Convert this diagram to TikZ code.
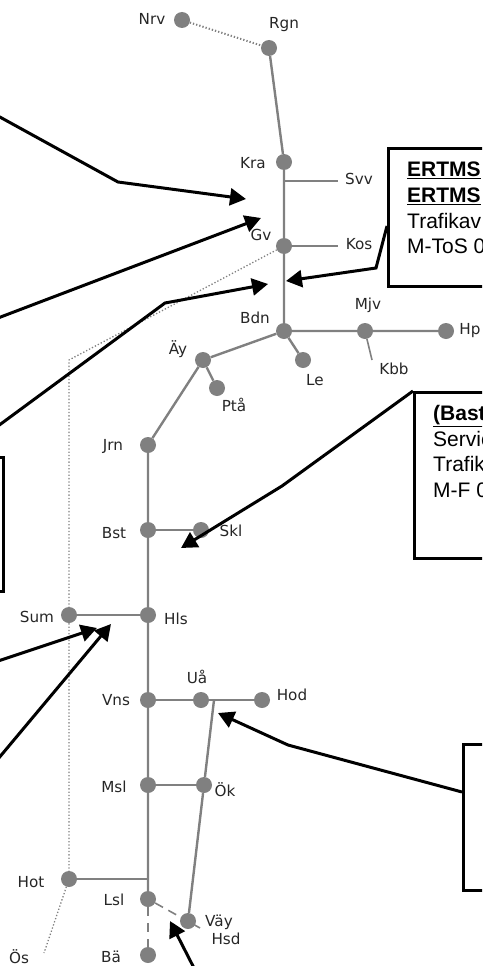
\documentclass[tikz,border=0pt]{standalone}
\usepackage{fontspec}
\setmainfont{Liberation Sans}
\newfontfamily\stnfont{DejaVu Sans}
\usetikzlibrary{arrows.meta, backgrounds}
\definecolor{trackgray}{RGB}{128,128,128}
\def\pagearea{(0,0) rectangle (482,966)}
\tikzset{
	stn/.style={circle, fill=trackgray, minimum size=16pt, inner sep=0pt},
	lbl/.style={font=\stnfont\fontsize{15.2}{16}\selectfont, text=black!85, inner sep=0pt},
	track/.style={draw=trackgray, line width=2.4pt},
	spur/.style={draw=trackgray, line width=1.6pt},
	dots/.style={draw=trackgray, line width=1.3pt, dotted},
	boxframe/.style={draw=black, line width=3pt, fill=white, anchor=north west, inner sep=0pt},
	boxtext/.style={anchor=north west, align=left, inner sep=0pt, font=\fontsize{21}{25.7}\selectfont},
	callout/.style={draw=black, line width=3pt, -{Triangle[length=16pt,width=17pt]}}
}

\begin{document}
\begin{tikzpicture}[x=1pt, y=-1pt]
	\useasboundingbox \pagearea;
	\clip \pagearea;

	% stations
	\foreach \id/\x/\y in {Nrv/182/20, Rgn/269/48, Kra/284/162, Gv/284/246, Bdn/284/331,
		Mjv/365/331, Hpn/446/331, Ay/203/360, Pta/217/388, Le/303/360, Jrn/148/445,
		Bst/148/530, Skl/201/530, Hls/148/615, Sum/69/615, Vns/148/700, Ua/201/700,
		Hod/262/700, Msl/148/785, Ok/204/785, Hot/69/879, Lsl/148/899, Vay/188/921, Ba/148/955}
		\node[stn] (\id) at (\x,\y) {};

	% branch ends and track corners
	\coordinate (Svv) at (338,181);
	\coordinate (Svvj) at (284,181);
	\coordinate (Kos) at (338,246);
	\coordinate (Kbb) at (372,360);
	\coordinate (Gvc) at (69,360);
	\coordinate (Hotj) at (148,879);
	\coordinate (Uaj) at (214,700);
	\coordinate (Hsd) at (200,928);
	\coordinate (Os) at (44,953);

	\begin{scope}[on background layer]
	\draw[dots, line width=2pt] (Nrv) -- (Rgn);
	\draw[track] (Rgn) -- (Kra) -- (Gv) -- (Bdn) -- (Hpn);
	\draw[spur] (Svvj) -- (Svv);
	\draw[spur] (Gv) -- (Kos);
	\draw[spur] (Mjv) -- (Kbb);
	\draw[track] (Bdn) -- (Le);
	\draw[track] (Bdn) -- (Ay) -- (Jrn) -- (Bst) -- (Hls) -- (Vns) -- (Msl) -- (Hotj) -- (Lsl);
	\draw[track] (Ay) -- (Pta);
	\draw[track] (Bst) -- (Skl);
	\draw[track] (Hls) -- (Sum);
	\draw[track] (Vns) -- (Hod);
	\draw[track] (Msl) -- (Ok);
	\draw[track] (Hot) -- (Hotj);
	\draw[track] (Uaj) -- (Ok) -- (Vay);
	\draw[track, dash pattern=on 9pt off 7pt] (Lsl) -- (Ba);
	\draw[spur, dash pattern=on 9pt off 6pt] (Lsl) -- (Hsd);
	\draw[dots] (Gv) -- (Gvc) -- (Sum) -- (Hot) -- (Os);
	\end{scope}

	% boxes
	\node[boxframe, minimum width=200pt, minimum height=138pt] (ertmsbox) at (387,147) {};
	\node[boxframe, minimum width=200pt, minimum height=166pt] (bastbox) at (413,391) {};
	\node[boxframe, minimum width=200pt, minimum height=146pt] (lastbox) at (462,743) {};
	\node[boxframe, minimum width=200pt, minimum height=134pt] (leftbox) at (-198,456) {};
	\node[boxtext] (ertmstext) at (407,162) {\textbf{\underline{ERTMS}}\\\textbf{\underline{ERTMS}}\\Trafikav\\M-ToS 0};
	\node[boxtext] (basttext) at (433,405) {\textbf{\underline{(Bast}}\\Servic\\Trafik\\M-F 0};

	% callouts
	\coordinate (a1s) at (-2,116);
	\coordinate (a1b) at (118,182);
	\coordinate (a1e) at (246,199);
	\coordinate (a2s) at (-2,318);
	\coordinate (a2e) at (261,218);
	\coordinate (a3s) at (-2,426);
	\coordinate (a3b) at (165,303);
	\coordinate (a3e) at (268,284);
	\coordinate (a4s) at (387,226);
	\coordinate (a4b) at (376,268);
	\coordinate (a4e) at (286,281);
	\coordinate (a5s) at (413,391);
	\coordinate (a5b) at (282,486);
	\coordinate (a5e) at (181,548);
	\coordinate (a6s) at (-2,661);
	\coordinate (a6e) at (97,628);
	\coordinate (a7s) at (-2,759);
	\coordinate (a7e) at (111,624);
	\coordinate (a8s) at (462,792);
	\coordinate (a8b) at (288,745);
	\coordinate (a8e) at (218,713);
	\coordinate (a9s) at (194,968);
	\coordinate (a9e) at (170,921);

	\draw[callout] (a1s) -- (a1b) -- (a1e);
	\draw[callout] (a2s) -- (a2e);
	\draw[callout] (a3s) -- (a3b) -- (a3e);
	\draw[callout] (a4s) -- (a4b) -- (a4e);
	\draw[callout] (a5s) -- (a5b) -- (a5e);
	\draw[callout] (a6s) -- (a6e);
	\draw[callout] (a7s) -- (a7e);
	\draw[callout] (a8s) -- (a8b) -- (a8e);
	\draw[callout] (a9s) -- (a9e);

	% station names
	\foreach \id/\txt/\x/\y in {nNrv/Nrv/152/19, nRgn/Rgn/284/25, nKra/Kra/253/163, nSvv/Svv/359/179,
		nGv/Gv/261/235, nKos/Kos/359/244, nBdn/Bdn/255/318, nMjv/Mjv/368/305, nHpn/Hp/470/331,
		nAy/Äy/178/349, nPta/Ptå/234/405, nLe/Le/315/380, nKbb/Kbb/394/369, nJrn/Jrn/113/446,
		nBst/Bst/114/533, nSkl/Skl/231/531, nSum/Sum/37/617, nHls/Hls/176/619, nUa/Uå/197/677,
		nHod/Hod/292/695, nVns/Vns/116/700, nMsl/Msl/114/787, nOk/Ök/225/790, nHot/Hot/31/882,
		nLsl/Lsl/114/900, nVay/Väy/219/922, nHsd/Hsd/226/939, nOs/Ös/19/957, nBa/Bä/111/957}
		\node[lbl] (\id) at (\x,\y) {\txt};
\end{tikzpicture}
\end{document}
